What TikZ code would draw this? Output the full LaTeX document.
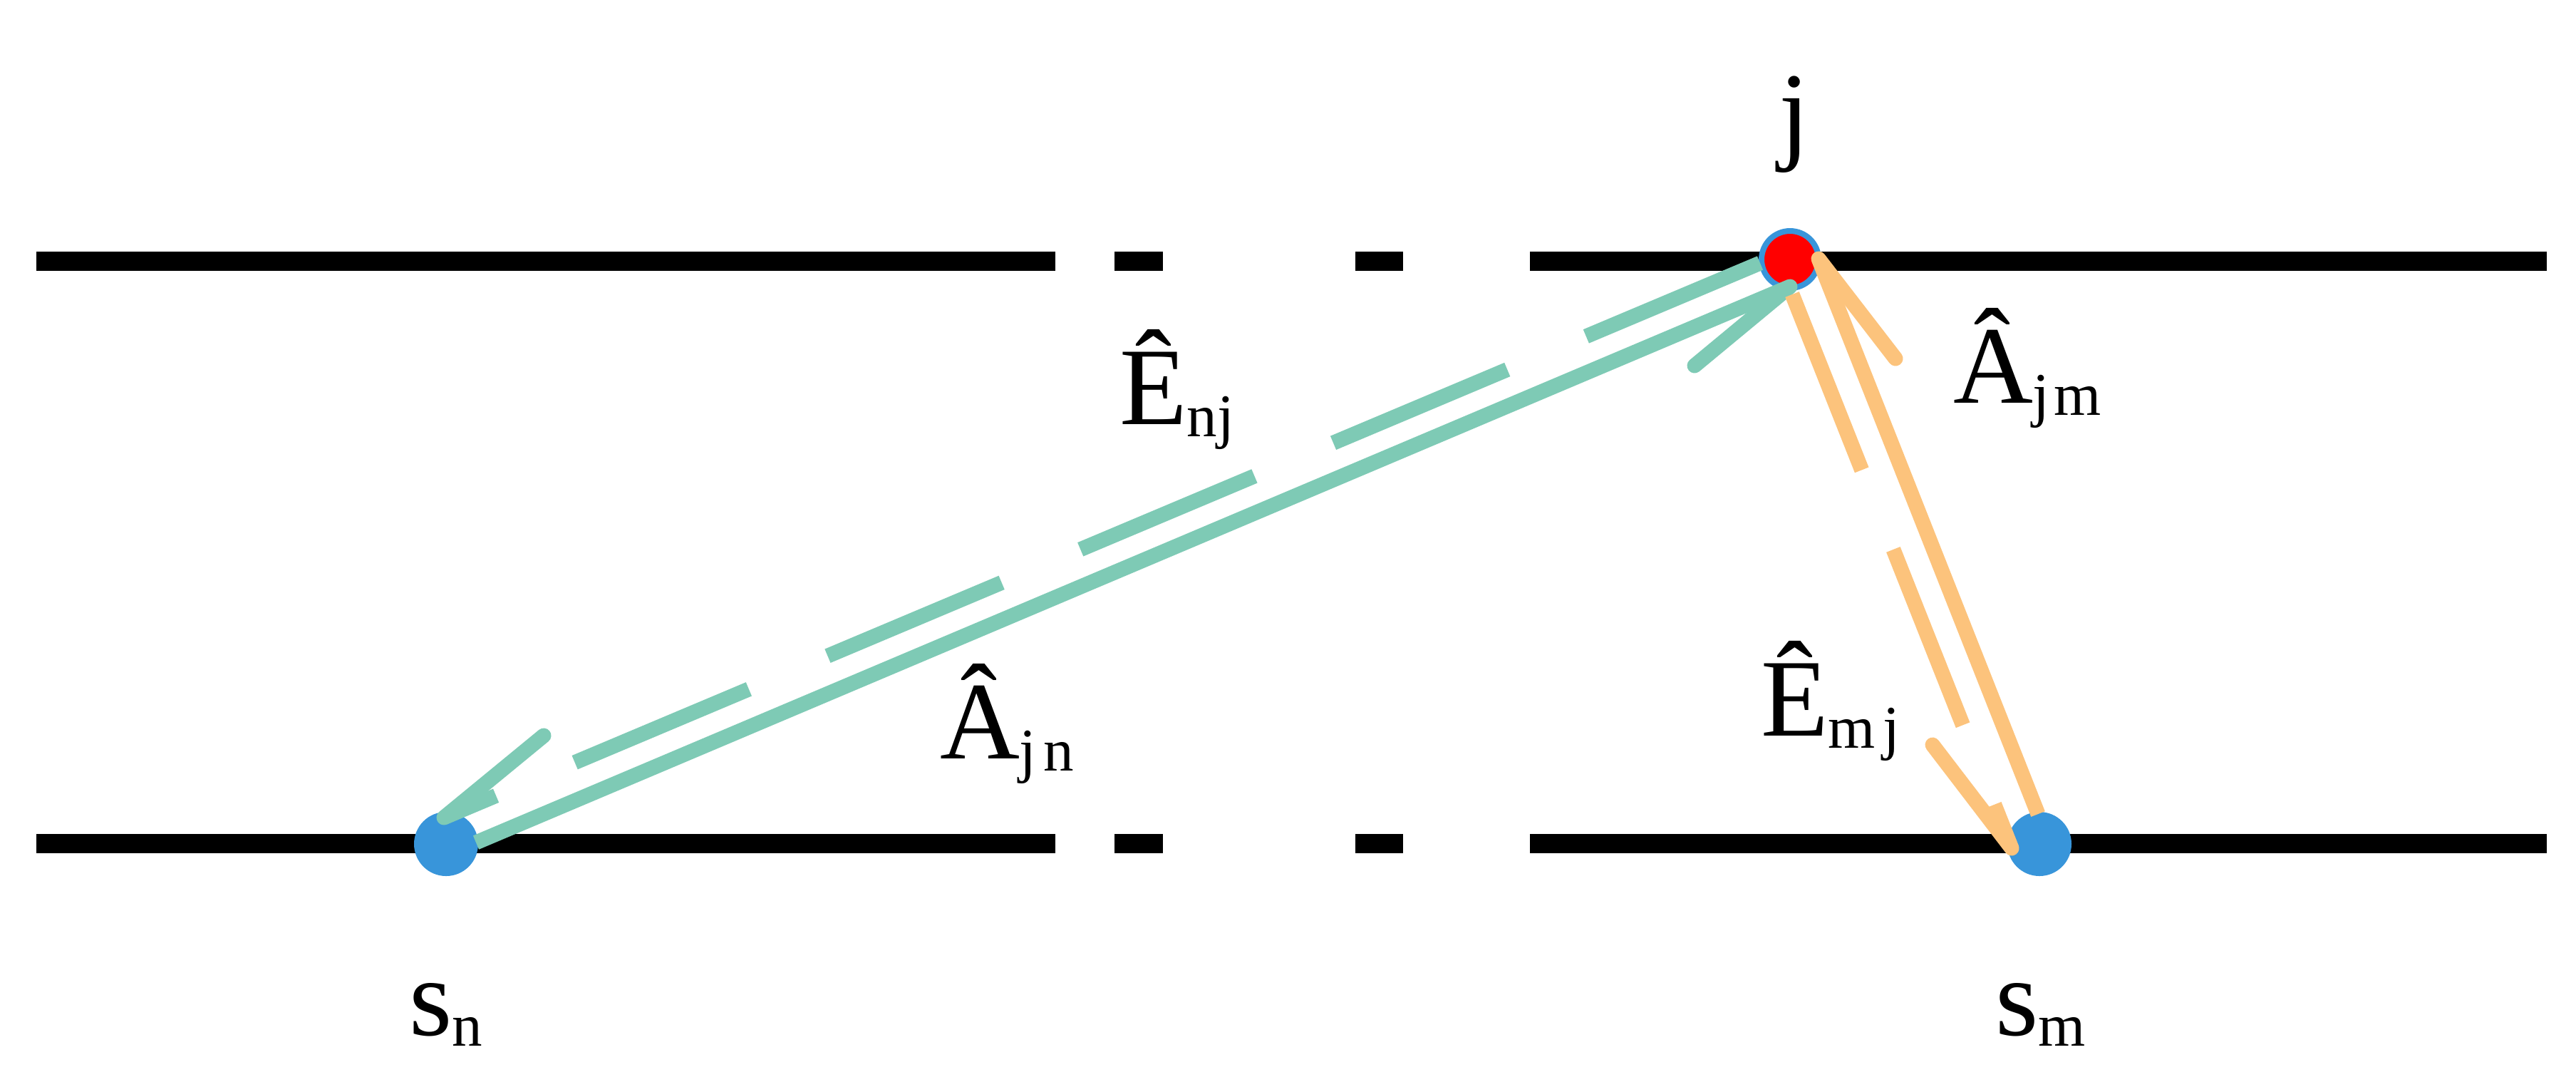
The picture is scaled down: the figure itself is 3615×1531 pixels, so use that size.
\documentclass[tikz,border=0pt]{standalone}
\usepackage{fontspec}
\setmainfont{Liberation Serif}
\usetikzlibrary{calc}
\definecolor{tealc}{RGB}{126,202,181}
\definecolor{orangec}{RGB}{252,195,124}
\definecolor{bluec}{RGB}{56,149,218}
\newcommand\sbx[1]{\raisebox{-1.7pt}{\fontsize{8.5}{10}\selectfont #1}}
\begin{document}
\begin{tikzpicture}[x=0.1pt,y=-0.1pt,
  rail/.style={line width=2.7pt, black, line cap=butt},
  ptnode/.style={circle, fill=bluec, minimum size=9pt, inner sep=0pt, outer sep=0pt},
  jnode/.style={circle, fill=red, draw=bluec, line width=0.8pt, minimum size=8pt, inner sep=0pt, outer sep=0pt},
  arr/.style={line width=2.1pt, line cap=butt},
  dsh/.style={arr, dash pattern=on 26.5pt off 12pt},
  barb/.style={line width=2.1pt, line cap=round},
  lbl/.style={inner sep=0pt, outer sep=0pt, anchor=base west, font=\fontsize{15.5}{18}\selectfont}
]
\useasboundingbox (0,0) rectangle (3615,1531);
\fill[white] (0,0) rectangle (3615,1531);

% rails
\foreach \yy in {366,1183}{
  \draw[rail] (51,\yy) -- (1481,\yy);
  \draw[rail] (1564,\yy) -- (1632,\yy);
  \draw[rail] (1902,\yy) -- (1969,\yy);
  \draw[rail] (2147,\yy) -- (3574,\yy);
}

% points
\node[ptnode] (sn) at (626,1184) {};
\node[ptnode] (sm) at (2862,1184) {};
\node[jnode] (j) at (2512,364) {};

% connector end points
\coordinate (gd1) at ($(j)+(-42,5)$);
\coordinate (gs2) at ($(j)+(0,38)$);
\coordinate (od1) at ($(j)+(3,49)$);
\coordinate (os2) at ($(j)+(40,-1)$);
\coordinate (gd2) at ($(sn)+(-3,-37)$);
\coordinate (gs1) at ($(sn)+(42,-2)$);
\coordinate (od2) at ($(sm)+(-39,6)$);
\coordinate (os1) at ($(sm)+(-2,-42)$);
\coordinate (gdb) at ($(gd2)+(140,-115)$);
\coordinate (gsb) at ($(gs2)+(-134,111)$);
\coordinate (odb) at ($(od2)+(-111,-145)$);
\coordinate (osb) at ($(os2)+(108,140)$);

% green: E_nj (dashed, j -> s_n) and A_jn (solid, s_n -> j)
\draw[dsh, tealc] (gd1) -- (gd2);
\draw[barb, tealc] (gd2) -- (gdb);
\draw[arr, tealc] (gs1) -- (gs2);
\draw[barb, tealc] (gs2) -- (gsb);

% orange: E_mj (dashed, j -> s_m) and A_jm (solid, s_m -> j)
\draw[dsh, orangec] (od1) -- (od2);
\draw[barb, orangec] (od2) -- (odb);
\draw[arr, orangec] (os1) -- (os2);
\draw[barb, orangec] (os2) -- (osb);

% labels
\node[lbl] (lj) at (2496,209) {j};
\node[lbl] (lsn) at (574,1452) {s\raisebox{-1.5pt}{\fontsize{8.5}{10}\selectfont n}};
\node[lbl] (lsm) at (2800,1452) {s\raisebox{-1.5pt}{\fontsize{8.5}{10}\selectfont m}};
\node[lbl] (lenj) at (1571,595) {Ê\sbx{nj}};
\node[lbl] (lajn) at (1319,1064) {Â\sbx{j\kern1pt n}};
\node[lbl] (lajm) at (2741,565) {Â\sbx{j\kern0.6pt m}};
\node[lbl] (lemj) at (2471,1032) {Ê\sbx{m\kern1.1pt j}};
\end{tikzpicture}
\end{document}
